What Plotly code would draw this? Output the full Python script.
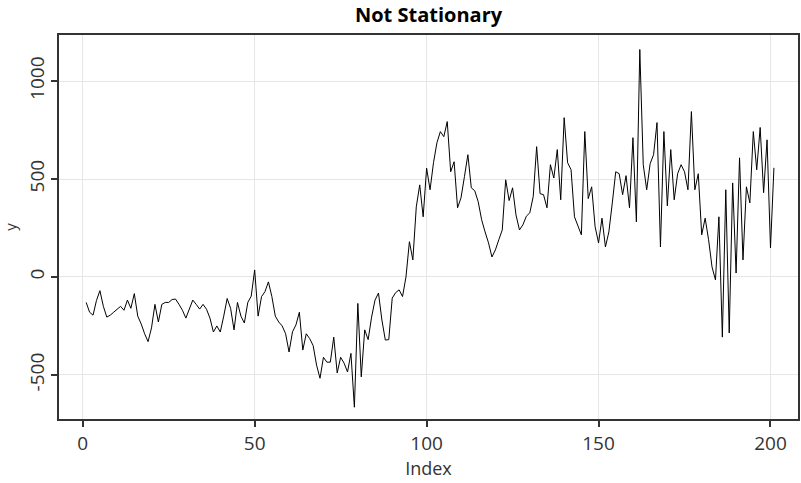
import plotly.graph_objects as go

# Series values, index 1..201
y_values = [
    -130, -180, -195, -120, -70, -150, -205, -195, -180, -165,
    -150, -170, -118, -160, -85, -200, -240, -290, -330, -260,
    -140, -230, -140, -130, -130, -115, -113, -140, -170, -210,
    -160, -118, -140, -164, -140, -165, -210, -281, -250, -281,
    -200, -110, -160, -270, -130, -200, -235, -130, -98, 36,
    -200, -100, -75, -25, -100, -200, -230, -250, -290, -383,
    -280, -245, -180, -373, -290, -315, -350, -450, -517, -410,
    -435, -435, -307, -490, -410, -440, -485, -390, -665, -135,
    -510, -270, -320, -205, -118, -82, -220, -322, -320, -108,
    -80, -66, -100, 0, 180, 87, 358, 470, 307, 555,
    445, 583, 685, 742, 716, 793, 537, 588, 353, 404,
    512, 624, 455, 440, 384, 292, 230, 174, 102, 138,
    190, 240, 496, 390, 455, 316, 240, 266, 310, 327,
    410, 665, 425, 420, 353, 573, 505, 650, 394, 813,
    583, 548, 307, 256, 215, 742, 400, 460, 256, 174,
    300, 153, 230, 378, 537, 527, 420, 517, 353, 711,
    281, 1161, 573, 445, 578, 624, 788, 153, 742, 363,
    650, 394, 527, 573, 537, 445, 844, 445, 527, 215,
    300, 190, 51, -15, 307, -307, 445, -286, 480, 20,
    608, 87, 460, 378, 742, 547, 763, 430, 700, 148,
    557,
]
x_index = list(range(1, len(y_values) + 1))

x_ticks = [0, 50, 100, 150, 200]
y_ticks = [-500, 0, 500, 1000]
y_tick_labels = ["-500", "0", "500", "1000"]

FONT = "Open Sans"
TEXT = "#333333"

fig = go.Figure(
    go.Scatter(
        x=x_index,
        y=y_values,
        mode="lines",
        line=dict(color="black", width=1),
        hoverinfo="x+y",
    )
)

axis_common = dict(
    showline=True,
    linecolor="#333333",
    linewidth=1.5,
    mirror=True,
    ticks="outside",
    ticklen=6,
    tickwidth=1.5,
    tickcolor="#333333",
    showgrid=True,
    gridcolor="#e6e6e6",
    gridwidth=1,
    zeroline=False,
    tickfont=dict(family=FONT, size=19, color=TEXT),
)

fig.update_layout(
    width=801,
    height=483,
    margin=dict(l=59, r=1, t=35, b=64),
    paper_bgcolor="white",
    plot_bgcolor="white",
    showlegend=False,
    title=dict(
        text="<b>Not Stationary</b>",
        x=0.535,
        xanchor="center",
        y=0.968,
        yanchor="middle",
        font=dict(family=FONT, size=20, color="black"),
    ),
    xaxis=dict(
        axis_common,
        range=[-6.9, 208],
        tickvals=x_ticks,
        title=dict(text="Index", font=dict(family=FONT, size=18, color=TEXT), standoff=2),
    ),
    yaxis=dict(
        axis_common,
        range=[-725, 1235],
        tickvals=y_ticks,
        ticktext=y_tick_labels,
        tickangle=-90,
        title=dict(text="y", font=dict(family=FONT, size=15, color=TEXT), standoff=6),
    ),
)

fig.write_html("out.html")
